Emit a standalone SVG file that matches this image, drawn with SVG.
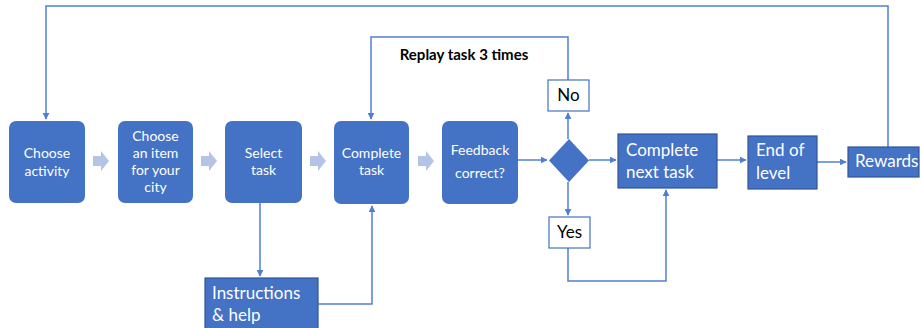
<svg xmlns="http://www.w3.org/2000/svg" width="921" height="328" viewBox="0 0 921 328">
<defs>
<marker id="ah" viewBox="0 0 10 10" refX="9" refY="5" markerWidth="7" markerHeight="7" markerUnits="userSpaceOnUse" orient="auto"><path d="M0,0 L10,5 L0,10 z" fill="#4F7FD4"/></marker>
<style>
.rb{fill:#4472C4;}
.sb{fill:#4472C4;stroke:#2F5597;stroke-width:1.2;}
.wb{fill:#fff;stroke:#4472C4;stroke-width:1.2;}
.ln{fill:none;stroke:#4F7FD4;stroke-width:1.5;}
.fa{fill:#B4C4E6;}
.t1{font-family:Lato,"Liberation Sans",sans-serif;font-size:14px;fill:#fff;text-anchor:middle;}
.t2{font-family:Lato,"Liberation Sans",sans-serif;font-size:17px;fill:#fff;}
.t3{font-family:Lato,"Liberation Sans",sans-serif;font-size:17px;fill:#000;text-anchor:middle;}
.tb{font-family:Lato,"Liberation Sans",sans-serif;font-size:15px;font-weight:bold;fill:#000;text-anchor:middle;}
</style>
</defs>
<rect width="921" height="328" fill="#fff"/>
<g id="connectors">
<path class="ln" d="M888,147 V6 H46 V119" marker-end="url(#ah)"/>
<path class="ln" d="M568,80 V37 H371 V119" marker-end="url(#ah)"/>
<path class="ln" d="M568,139 V113" marker-end="url(#ah)"/>
<path class="ln" d="M568,182 V215" marker-end="url(#ah)"/>
<path class="ln" d="M518,160 H547" marker-end="url(#ah)"/>
<path class="ln" d="M589,160 H616" marker-end="url(#ah)"/>
<path class="ln" d="M717,160 H746" marker-end="url(#ah)"/>
<path class="ln" d="M817,162 H846" marker-end="url(#ah)"/>
<path class="ln" d="M568,248 V281 H666 V190" marker-end="url(#ah)"/>
<path class="ln" d="M260,203 V276" marker-end="url(#ah)"/>
<path class="ln" d="M318,304 H372 V206" marker-end="url(#ah)"/>
<path class="fa" d="M93,156 H101 V151 L109,161 L101,171 V166 H93 z"/>
<path class="fa" d="M201,156 H209 V151 L217,161 L209,171 V166 H201 z"/>
<path class="fa" d="M310,156 H318 V151 L326,161 L318,171 V166 H310 z"/>
<path class="fa" d="M418,156 H426 V151 L434,161 L426,171 V166 H418 z"/>
<text class="tb" x="464" y="60">Replay task 3 times</text>
</g>
<g id="choose-activity"><rect class="rb" x="9" y="121" width="76" height="82" rx="7"/><text class="t1" x="47" y="158">Choose</text><text class="t1" x="47" y="176">activity</text></g>
<g id="choose-item"><rect class="rb" x="118" y="121" width="75" height="82" rx="7"/><text class="t1" x="155.5" y="141">Choose</text><text class="t1" x="155.5" y="158">an item</text><text class="t1" x="155.5" y="175">for your</text><text class="t1" x="155.5" y="192">city</text></g>
<g id="select-task"><rect class="rb" x="225" y="121" width="77" height="82" rx="7"/><text class="t1" x="263.5" y="158">Select</text><text class="t1" x="263.5" y="175">task</text></g>
<g id="complete-task"><rect class="rb" x="334" y="121" width="75" height="83" rx="7"/><text class="t1" x="371.5" y="158">Complete</text><text class="t1" x="371.5" y="175">task</text></g>
<g id="feedback"><rect class="rb" x="442" y="121" width="76" height="83" rx="7"/><text class="t1" x="480" y="155">Feedback</text><text class="t1" x="480" y="178">correct?</text></g>
<g id="decision"><path class="rb" d="M569,139 L589,160.5 L569,182 L549,160.5 z"/></g>
<g id="no"><rect class="wb" x="548" y="80" width="41" height="31"/><text class="t3" x="568.5" y="101">No</text></g>
<g id="yes"><rect class="wb" x="549" y="217" width="41" height="31"/><text class="t3" x="569.5" y="238">Yes</text></g>
<g id="complete-next"><rect class="sb" x="618" y="134" width="99" height="54"/><text class="t2" x="626" y="156">Complete</text><text class="t2" x="626" y="178">next task</text></g>
<g id="end-level"><rect class="sb" x="748" y="136" width="69" height="53"/><text class="t2" x="756" y="156">End of</text><text class="t2" x="756" y="179">level</text></g>
<g id="rewards"><rect class="sb" x="848" y="147" width="71" height="30"/><text class="t2" x="855" y="167">Rewards</text></g>
<g id="instructions"><rect class="sb" x="205" y="278" width="113" height="52"/><text class="t2" x="212" y="299">Instructions</text><text class="t2" x="212" y="321">&amp; help</text></g>
</svg>
